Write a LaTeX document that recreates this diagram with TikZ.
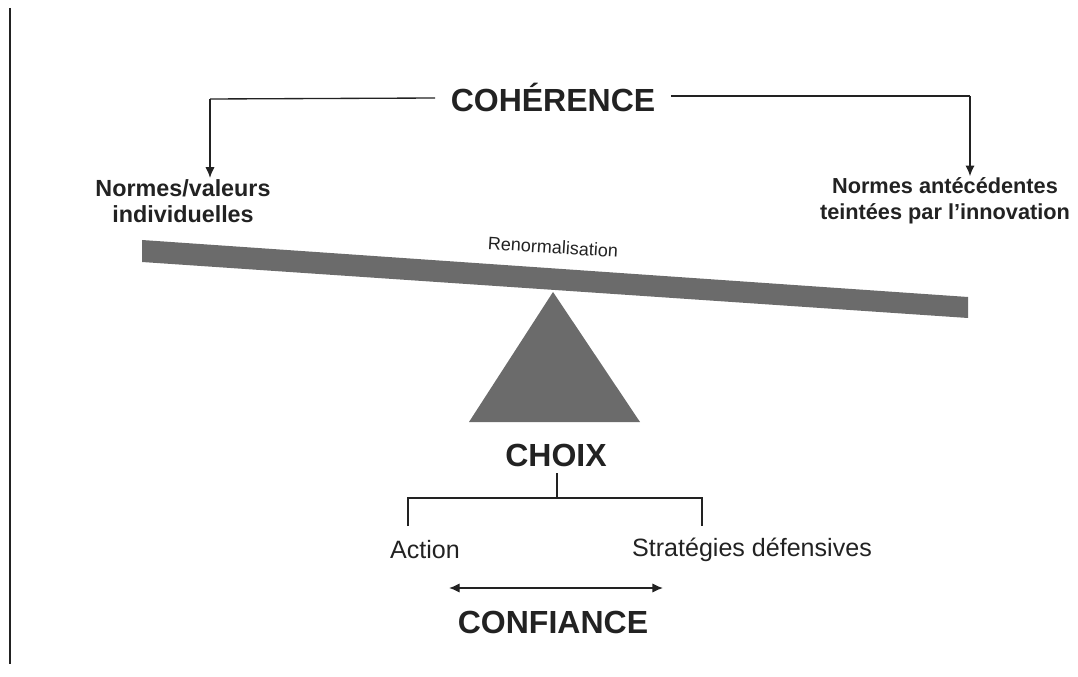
\documentclass[tikz,border=0pt]{standalone}
\usepackage{fontspec}
\setmainfont{Liberation Sans}
\usetikzlibrary{arrows.meta}
\definecolor{ink}{HTML}{222222}
\definecolor{beamgray}{HTML}{6B6B6B}
\begin{document}
\begin{tikzpicture}[x=0.75pt,y=-0.75pt,
  title/.style={font=\bfseries\fontsize{24}{28}\selectfont, text=ink, inner sep=1pt},
  lab/.style={font=\bfseries\fontsize{17.5}{19.5}\selectfont, text=ink, align=center, inner sep=1pt},
  plain/.style={font=\fontsize{18.8}{21}\selectfont, text=ink, inner sep=1pt},
  conn/.style={draw=ink, line width=1pt},
  tip/.style={Latex[length=8pt,width=7pt]},
  arr/.style={conn, -{Latex[length=8pt,width=7pt]}}]
\useasboundingbox (0,0) rectangle (1078,677);
% left margin rule
\draw[ink, line width=1.2pt] (10,8) -- (10,664);
% nodes
\node[title] (coh) at (553,97) {COHÉRENCE};
\node[lab] (nv) at (183,201) {Normes/valeurs\\individuelles};
\node[lab, font=\bfseries\fontsize{16.3}{19.5}\selectfont] (na) at (945,201) {Normes antécédentes\\teintées par l’innovation};
\node[title] (choix) at (556,455) {CHOIX};
\node[plain] (act) at (425,550) {Action};
\node[plain] (strat) at (752,550) {Stratégies défensives};
\node[title] (conf) at (553,622) {CONFIANCE};
% beam and fulcrum
\fill[beamgray] (142,240) -- (968,297) -- (968,318) -- (142,262) -- cycle;
\node[font=\fontsize{13.5}{15}\selectfont, text=ink, rotate=-3.5] (ren) at (553,247) {Renormalisation};
\fill[beamgray] (553,292) -- (640,422) -- (469,422) -- cycle;
% coherence connectors
\coordinate (cl) at (210,99);
\coordinate (cr) at (970,96);
\draw[conn] (coh.west) ++(-14,1) -- (cl);
\draw[arr] (cl) -- (nv.north -| cl);
\draw[conn] (coh.east) ++(14,-1) -- (cr);
\draw[arr] (cr) -- (na.north -| cr);
% choix tree
\coordinate (tt) at (557,473);
\coordinate (tj) at (557,498);
\coordinate (tl) at (408,498);
\coordinate (tr) at (702,498);
\coordinate (ll) at (408,526);
\coordinate (rl) at (702,526);
\draw[conn] (tt) -- (tj);
\draw[conn] (ll) -- (tl) -- (tr) -- (rl);
% confiance arrow
\coordinate (al) at (449,588);
\coordinate (ar) at (663,588);
\draw[conn, {Latex[length=8pt,width=7pt]}-{Latex[length=8pt,width=7pt]}] (al) -- (ar);
\end{tikzpicture}
\end{document}
